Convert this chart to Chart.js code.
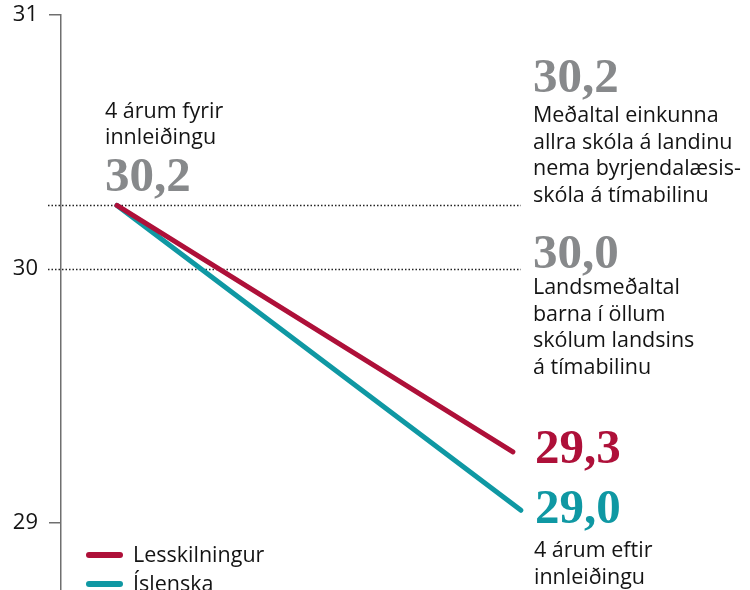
<!DOCTYPE html>
<html>
<head>
<meta charset="utf-8">
<script src="https://cdn.jsdelivr.net/npm/chart.js@4.4.1/dist/chart.umd.min.js"></script>
<style>
  html,body{margin:0;padding:0;background:#fff;}
  #wrap{width:750px;height:590px;position:relative;}
</style>
</head>
<body>
<div id="wrap"><canvas id="c" width="750" height="590"></canvas></div>
<script>
// ---- data ----
const seriesNames = ['Lesskilningur', 'Íslenska'];
const seriesColors = ['#ae1039', '#0f98a3'];
const lessX = [0, 0.98];
const lessY = [30.25, 29.28];
const islX = [0, 1];
const islY = [30.25, 29.05];
const yTicks = [29, 30, 31];
const refLines = [30.25, 30.0];
const startLabel = ['4 árum fyrir', 'innleiðingu'];
const startValue = '30,2';
const ref1Value = '30,2';
const ref1Text = ['Meðaltal einkunna', 'allra skóla á landinu', 'nema byrjendalæsis-', 'skóla á tímabilinu'];
const ref2Value = '30,0';
const ref2Text = ['Landsmeðaltal', 'barna í öllum', 'skólum landsins', 'á tímabilinu'];
const endValues = ['29,3', '29,0'];
const endLabel = ['4 árum eftir', 'innleiðingu'];

const SANS = '"Open Sans", "Noto Sans", sans-serif';
const SERIF = '"Liberation Serif", "Times New Roman", serif';
const GREY = '#87898b';
const INK = '#141414';

const annot = {
  id: 'annot',
  beforeDatasetsDraw(chart) {
    const ctx = chart.ctx, y = chart.scales.y, x = chart.scales.x;
    ctx.save();
    ctx.strokeStyle = '#222';
    ctx.lineWidth = 1.5;
    ctx.setLineDash([1.5, 2]);
    const x0 = chart.chartArea.left - 13, x1 = x.getPixelForValue(1);
    refLines.forEach(v => {
      const py = Math.round(y.getPixelForValue(v)) + 0.5;
      ctx.beginPath(); ctx.moveTo(x0, py); ctx.lineTo(x1, py); ctx.stroke();
    });
    ctx.restore();
  },
  afterDatasetsDraw(chart) {
    const ctx = chart.ctx, x = chart.scales.x;
    ctx.save();
    ctx.textBaseline = 'alphabetic';
    ctx.textAlign = 'left';
    const lx = x.getPixelForValue(0) - 12;
    const rx = x.getPixelForValue(1) + 12;
    const sans = '21.5px ' + SANS;
    const big = 'bold 49px ' + SERIF;
    function lines(arr, px, py, lh) {
      ctx.font = sans; ctx.fillStyle = INK;
      arr.forEach((t, i) => ctx.fillText(t, px, py + i * lh));
    }
    // left
    lines(startLabel, lx, 118, 26);
    ctx.font = big; ctx.fillStyle = GREY; ctx.fillText(startValue, lx, 191);
    // right ref 1
    ctx.font = big; ctx.fillStyle = GREY; ctx.fillText(ref1Value, rx, 92);
    lines(ref1Text, rx, 122, 26.5);
    // right ref 2
    ctx.font = big; ctx.fillStyle = GREY; ctx.fillText(ref2Value, rx, 268);
    lines(ref2Text, rx, 294, 26.5);
    // end values
    ctx.font = big; ctx.fillStyle = seriesColors[0]; ctx.fillText(endValues[0], rx + 2, 463);
    ctx.font = big; ctx.fillStyle = seriesColors[1]; ctx.fillText(endValues[1], rx + 2, 523);
    lines(endLabel, rx + 1, 557, 26.5);
    // legend
    ctx.lineCap = 'round';
    ctx.lineWidth = 6;
    seriesNames.forEach((n, i) => {
      const yy = 555 + i * 29;
      ctx.strokeStyle = seriesColors[i];
      ctx.beginPath(); ctx.moveTo(89, yy); ctx.lineTo(120, yy); ctx.stroke();
      ctx.font = sans; ctx.fillStyle = INK; ctx.textBaseline = 'middle';
      ctx.fillText(n, 133, yy + 1);
    });
    ctx.restore();
  }
};

new Chart(document.getElementById('c'), {
  type: 'line',
  data: {
    datasets: [
      { label: seriesNames[0], data: lessX.map((v, i) => ({ x: v, y: lessY[i] })),
        borderColor: seriesColors[0], borderWidth: 5, borderCapStyle: 'round', pointRadius: 0, fill: false, tension: 0 },
      { label: seriesNames[1], data: islX.map((v, i) => ({ x: v, y: islY[i] })),
        borderColor: seriesColors[1], borderWidth: 5, borderCapStyle: 'round', pointRadius: 0, fill: false, tension: 0 }
    ]
  },
  options: {
    responsive: false,
    animation: false,
    devicePixelRatio: 1,
    layout: { padding: { top: 15, bottom: 0, left: 0, right: 0 } },
    plugins: { legend: { display: false }, tooltip: { enabled: false } },
    scales: {
      x: { type: 'linear', display: false, min: -0.1386, max: 1.567 },
      y: {
        type: 'linear', min: 28.736, max: 31,
        afterBuildTicks: s => { s.ticks = yTicks.map(v => ({ value: v })); },
        afterFit: s => { s.width = 61; s.paddingTop = 0; s.paddingBottom = 0; },
        border: { display: true, color: '#6f6f6f', width: 1.5 },
        grid: { drawOnChartArea: false, drawTicks: true, tickLength: 12,
                tickColor: c => (c.tick && c.tick.value === 30) ? 'rgba(0,0,0,0)' : '#6f6f6f', lineWidth: 1.5 },
        ticks: { padding: 11, color: INK, font: { family: SANS, size: 22 }, callback: v => String(v) }
      }
    }
  },
  plugins: [annot]
});
</script>
</body>
</html>
